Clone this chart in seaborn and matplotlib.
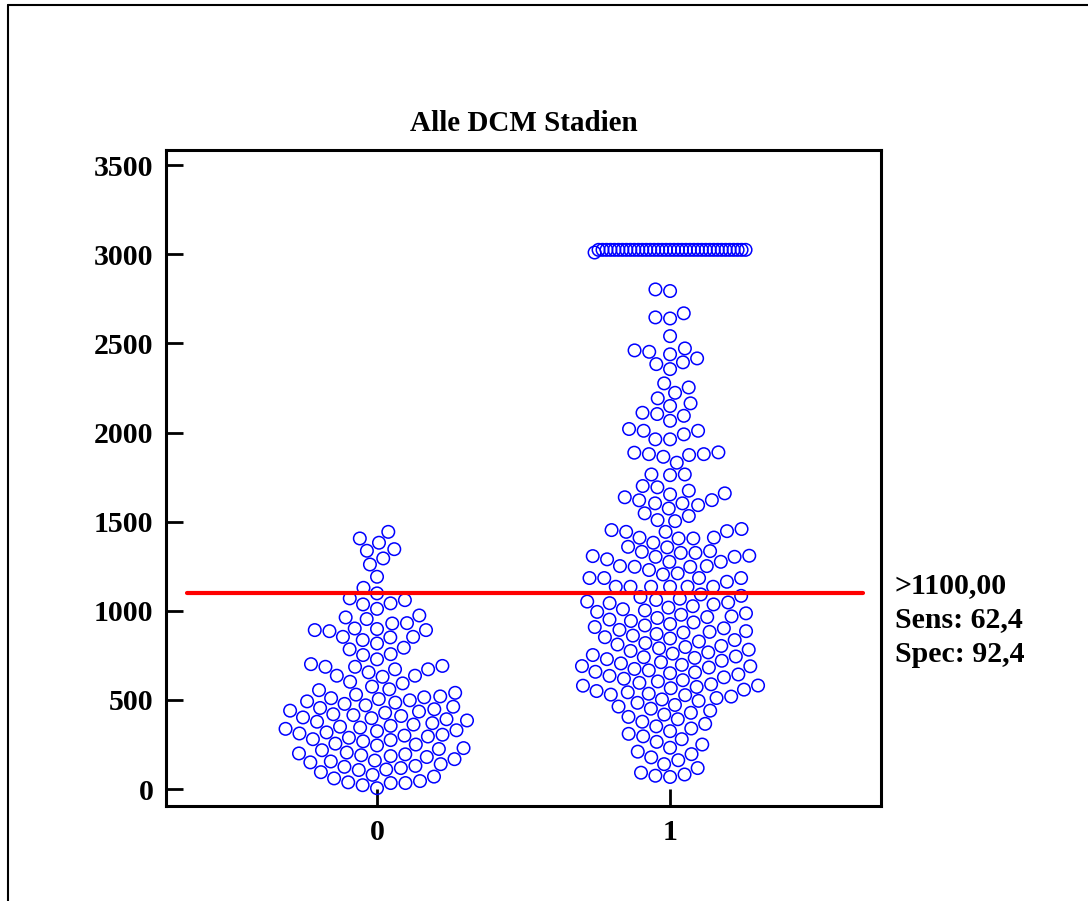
import warnings
import matplotlib
matplotlib.use("Agg")
import matplotlib.pyplot as plt
from matplotlib.lines import Line2D
import pandas as pd
import seaborn as sns

warnings.filterwarnings("ignore")

# === Werte ===
gruppen = ["0", "1"]

werte_0 = [
    1443, 1406, 1382, 1346, 1337, 1294, 1260, 1191, 1129, 1098, 1070, 1060, 1042, 1036,
    1011, 974, 963, 954, 931, 929, 901, 898, 892, 892, 886, 854, 854, 851, 836, 817,
    793, 784, 757, 752, 728, 701, 691, 686, 686, 672, 672, 655, 636, 636, 630, 602, 593,
    575, 560, 555, 540, 530, 520, 515, 510, 505, 498, 492, 485, 478, 470, 462, 455, 448,
    440, 435, 428, 420, 415, 410, 402, 398, 392, 385, 378, 370, 362, 355, 350, 345, 338,
    330, 325, 318, 312, 305, 300, 295, 288, 280, 275, 268, 255, 250, 245, 230,
    225, 218, 205, 200, 195, 190, 185, 180, 168, 160, 155, 150, 140, 130,
    125, 118, 110, 107, 95, 80, 70, 60, 45, 38, 34, 34, 22, 5,
]

werte_1 = [
    2803, 2794, 2669, 2646, 2640, 2541, 2472, 2461, 2453, 2439, 2416, 2394, 2384, 2356,
    2276, 2253, 2223, 2192, 2164, 2149, 2111, 2104, 2094, 2066, 2020, 2010, 2010, 1990,
    1962, 1962, 1889, 1887, 1879, 1879, 1874, 1864, 1831, 1765, 1765, 1761,
    1700, 1693, 1674, 1659, 1653, 1637, 1621, 1620, 1603, 1603, 1593, 1574, 1547, 1532,
    1509, 1503, 1459, 1453, 1447, 1443, 1443, 1411, 1410, 1406, 1406, 1382, 1359, 1356,
    1335, 1331, 1325, 1325, 1309, 1307, 1303, 1303, 1289, 1275, 1275, 1251, 1251, 1247,
    1247, 1229, 1210, 1204, 1184, 1184, 1184, 1184, 1163, 1135, 1135, 1135, 1135, 1135,
    1135,
    1092, 1084, 1077, 1068, 1061, 1052, 1047, 1043, 1036, 1026, 1018, 1009, 1002,
    994, 986, 978, 969, 965, 960, 951, 943, 935, 926, 918, 909, 902,
    893, 886, 882, 878, 870, 861, 852, 845, 836, 828, 819, 811, 803,
    797, 790, 782, 775, 767, 760, 752, 744, 740, 736, 729, 720, 712, 705,
    697, 690, 689, 682, 674, 666, 658, 655, 650, 643, 635, 627, 619, 611, 604,
    596, 588, 581, 580, 573, 566, 558, 550, 543, 535, 530, 527, 519, 511, 503,
    495, 484, 472, 463, 451, 440, 428, 418, 405,
    392, 378, 366, 352, 340, 325, 310,
    296, 280, 265, 250, 232, 210,
    196, 178, 162, 140, 118,
    92, 82, 75, 68,
]

# Werte > 3000 werden am oberen Rand gesammelt dargestellt
werte_1_gekappt = [
    3010, 3025, 3025, 3025, 3025, 3025, 3025, 3025, 3025, 3025, 3025, 3025, 3025,
    3025, 3025, 3025, 3025, 3025, 3025, 3025, 3025, 3025, 3025, 3025, 3025, 3025,
    3025, 3025, 3025, 3025, 3025, 3025, 3025, 3025, 3025, 3025, 3025, 3025, 3025,
]

schwelle = 1100
schwelle_text = [">1100,00", "Sens: 62,4", "Spec: 92,4"]
titel = "Alle DCM Stadien"
y_ticks = [0, 500, 1000, 1500, 2000, 2500, 3000, 3500]

# === DataFrames ===
df = pd.DataFrame({
    "gruppe": ["0"] * len(werte_0) + ["1"] * len(werte_1),
    "wert": werte_0 + werte_1,
})

# gekappte Werte: nebeneinander per dodge, leere Randstufen machen die Reihe schmaler
nr = [f"k{i}" for i in range(len(werte_1_gekappt))]
df_kappe = pd.DataFrame({"gruppe": "1", "wert": werte_1_gekappt, "nr": nr})
rand = 10
stufen = [f"l{i}" for i in range(rand)] + nr + [f"r{i}" for i in range(rand)]

# === Stil ===
sns.set_theme(style="white")
plt.rcParams["font.family"] = ["Liberation Serif", "DejaVu Serif"]
plt.rcParams["font.weight"] = "bold"
plt.rcParams["text.color"] = "black"
plt.rcParams["xtick.color"] = "black"
plt.rcParams["ytick.color"] = "black"

fig = plt.figure(figsize=(10.88, 9.01), dpi=100)
ax = fig.add_axes([0.1526, 0.1054, 0.6572, 0.7281])

sns.swarmplot(data=df, x="gruppe", y="wert", order=gruppen, color="blue",
              size=9, marker="o", ax=ax)
sns.stripplot(data=df_kappe, x="gruppe", y="wert", order=gruppen, hue="nr",
              hue_order=stufen, palette=["blue"] * len(stufen), dodge=True,
              jitter=False, size=9, marker="o", legend=False, ax=ax)
for coll in ax.collections:
    coll.set_facecolor("none")
    coll.set_edgecolor("#0000ff")
    coll.set_linewidth(1.1)

# === Schwellenwert ===
ax.axhline(schwelle, xmin=0.029, xmax=0.975, color="red", lw=3, zorder=4)
for i, t in enumerate(schwelle_text):
    fig.text(895 / 1088, 1 - (586 + 34 * i) / 901, t, fontsize=21.5,
             fontweight="bold", va="center", ha="left", color="black")

# === Achsen ===
ax.set_xlim(-0.72, 1.72)
ax.set_ylim(-95, 3585)
ax.set_yticks(y_ticks)
ax.set_xlabel("")
ax.set_ylabel("")
ax.tick_params(direction="in", length=12, width=2, labelsize=21.5, pad=9,
               left=True, bottom=True, colors="black")
for s in ax.spines.values():
    s.set_linewidth(2.2)
    s.set_color("black")
ax.set_title(titel, fontsize=21, fontweight="bold", pad=14, color="black")

# === Rahmen um die Abbildung ===
fig.add_artist(Line2D([8 / 1088, 8 / 1088], [0, 1 - 5 / 901], color="black", lw=1.5))
fig.add_artist(Line2D([8 / 1088, 1], [1 - 5 / 901, 1 - 5 / 901], color="black", lw=1.5))

fig.savefig("out.png", dpi=100)
